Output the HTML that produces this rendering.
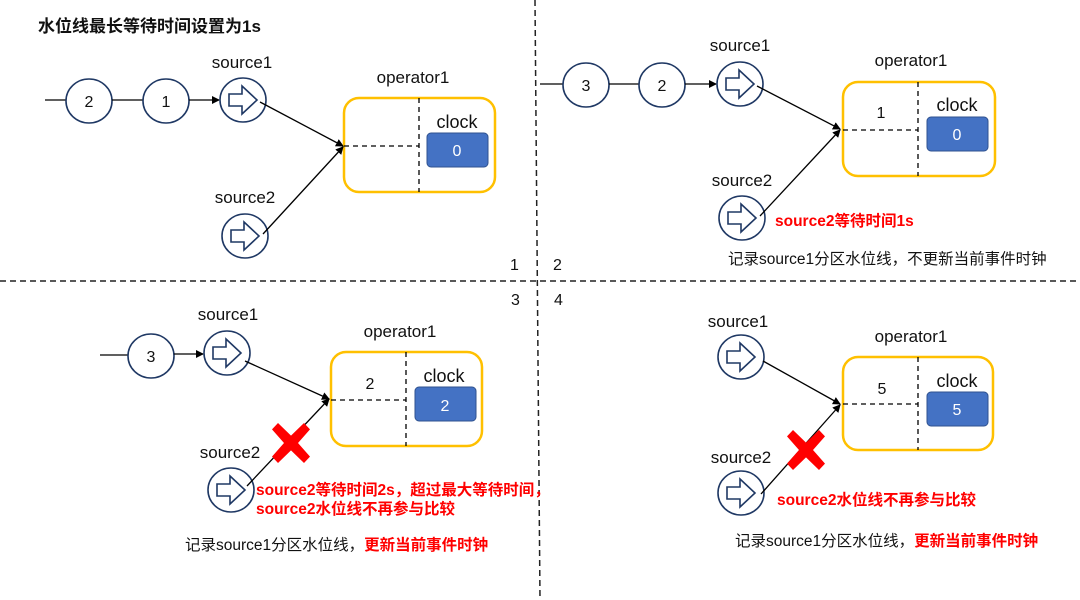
<!DOCTYPE html>
<html><head><meta charset="utf-8"><style>
html,body{margin:0;padding:0;background:#fff;}
svg{display:block;}
text{font-family:"Liberation Sans","Noto Sans CJK SC",sans-serif;fill:#111;}
.l{font-size:17px;}
.n{font-size:16px;}
.r{fill:#f00;font-size:15.5px;font-weight:bold;}
.b{font-size:15.5px;}
</style></head><body>
<svg width="1080" height="600" viewBox="0 0 1080 600" xmlns="http://www.w3.org/2000/svg">
<defs>
<marker id="ah" markerWidth="8" markerHeight="8" refX="7" refY="4" orient="auto" markerUnits="userSpaceOnUse"><path d="M0,0 L8,4 L0,8 z" fill="#000"/></marker>
<g id="src"><ellipse cx="0" cy="0" rx="23" ry="22" fill="#fff" stroke="#1f3864" stroke-width="1.6"/><path d="M-14,-6 h13 v-8 l15,14 l-15,14 v-8 h-13 z" fill="#fff" stroke="#1f3864" stroke-width="1.6"/></g>
<g id="xx"><path d="M-19,-13 L-13,-19 L0,-7 L13,-19 L19,-13 L7,0 L19,13 L13,19 L0,7 L-13,19 L-19,13 L-7,0 z" fill="#f00" transform="scale(1,1.05)"/></g>
</defs>

<line x1="0" y1="281" x2="1080" y2="281" stroke="#222" stroke-width="1.5" stroke-dasharray="6,4"/>
<line x1="535" y1="0" x2="540" y2="600" stroke="#222" stroke-width="1.5" stroke-dasharray="6,4"/>
<text x="510" y="270" class="n">1</text>
<text x="553" y="270" class="n">2</text>
<text x="511" y="305" class="n">3</text>
<text x="554" y="305" class="n">4</text>

<!-- Panel 1 -->
<text x="38" y="32" style="font-size:17px;font-weight:bold">水位线最长等待时间设置为1s</text>
<line x1="45" y1="100" x2="66" y2="100" stroke="#000" stroke-width="1.3"/>
<ellipse cx="89" cy="101" rx="23" ry="22" fill="#fff" stroke="#1f3864" stroke-width="1.6"/>
<text x="89" y="107" class="n" text-anchor="middle">2</text>
<line x1="112" y1="100" x2="143" y2="100" stroke="#000" stroke-width="1.3"/>
<ellipse cx="166" cy="101" rx="23" ry="22" fill="#fff" stroke="#1f3864" stroke-width="1.6"/>
<text x="166" y="107" class="n" text-anchor="middle">1</text>
<line x1="189" y1="100" x2="219" y2="100" stroke="#000" stroke-width="1.3" marker-end="url(#ah)"/>
<use href="#src" x="243" y="100"/>
<text x="242" y="68" class="l" text-anchor="middle">source1</text>
<use href="#src" x="245" y="236"/>
<text x="245" y="203" class="l" text-anchor="middle">source2</text>
<text x="413" y="83" class="l" text-anchor="middle">operator1</text>
<rect x="344" y="98" width="151" height="94" rx="15" fill="none" stroke="#ffc000" stroke-width="2.5"/>
<line x1="419" y1="98" x2="419" y2="192" stroke="#000" stroke-width="1.3" stroke-dasharray="5,4"/>
<line x1="344" y1="146" x2="419" y2="146" stroke="#000" stroke-width="1.3" stroke-dasharray="5,4"/>
<text x="457" y="128" class="l" text-anchor="middle" style="font-size:18px">clock</text>
<rect x="427" y="133" width="61" height="34" rx="4" fill="#4472c4" stroke="#2f528f"/>
<text x="457" y="156" class="n" text-anchor="middle" style="fill:#fff">0</text>
<line x1="260" y1="102" x2="343" y2="146" stroke="#000" stroke-width="1.3" marker-end="url(#ah)"/>
<line x1="263" y1="234" x2="343" y2="147" stroke="#000" stroke-width="1.3" marker-end="url(#ah)"/>

<!-- Panel 2 -->
<line x1="540" y1="84" x2="563" y2="84" stroke="#000" stroke-width="1.3"/>
<ellipse cx="586" cy="85" rx="23" ry="22" fill="#fff" stroke="#1f3864" stroke-width="1.6"/>
<text x="586" y="91" class="n" text-anchor="middle">3</text>
<line x1="609" y1="84" x2="639" y2="84" stroke="#000" stroke-width="1.3"/>
<ellipse cx="662" cy="85" rx="23" ry="22" fill="#fff" stroke="#1f3864" stroke-width="1.6"/>
<text x="662" y="91" class="n" text-anchor="middle">2</text>
<line x1="685" y1="84" x2="716" y2="84" stroke="#000" stroke-width="1.3" marker-end="url(#ah)"/>
<use href="#src" x="740" y="84"/>
<text x="740" y="51" class="l" text-anchor="middle">source1</text>
<use href="#src" x="742" y="218"/>
<text x="742" y="186" class="l" text-anchor="middle">source2</text>
<text x="911" y="66" class="l" text-anchor="middle">operator1</text>
<rect x="843" y="82" width="152" height="94" rx="15" fill="none" stroke="#ffc000" stroke-width="2.5"/>
<line x1="918" y1="82" x2="918" y2="176" stroke="#000" stroke-width="1.3" stroke-dasharray="5,4"/>
<line x1="843" y1="130" x2="918" y2="130" stroke="#000" stroke-width="1.3" stroke-dasharray="5,4"/>
<text x="881" y="118" class="n" text-anchor="middle">1</text>
<text x="957" y="111" class="l" text-anchor="middle" style="font-size:18px">clock</text>
<rect x="927" y="117" width="61" height="34" rx="4" fill="#4472c4" stroke="#2f528f"/>
<text x="957" y="140" class="n" text-anchor="middle" style="fill:#fff">0</text>
<line x1="757" y1="86" x2="840" y2="129" stroke="#000" stroke-width="1.3" marker-end="url(#ah)"/>
<line x1="760" y1="216" x2="840" y2="130" stroke="#000" stroke-width="1.3" marker-end="url(#ah)"/>
<text x="775" y="226" class="r">source2等待时间1s</text>
<text x="728" y="264" class="b">记录source1分区水位线，不更新当前事件时钟</text>

<!-- Panel 3 -->
<line x1="100" y1="355" x2="128" y2="355" stroke="#000" stroke-width="1.3"/>
<ellipse cx="151" cy="356" rx="23" ry="22" fill="#fff" stroke="#1f3864" stroke-width="1.6"/>
<text x="151" y="362" class="n" text-anchor="middle">3</text>
<line x1="174" y1="354" x2="203" y2="354" stroke="#000" stroke-width="1.3" marker-end="url(#ah)"/>
<use href="#src" x="227" y="353"/>
<text x="228" y="320" class="l" text-anchor="middle">source1</text>
<use href="#src" x="231" y="490"/>
<text x="230" y="458" class="l" text-anchor="middle">source2</text>
<text x="400" y="337" class="l" text-anchor="middle">operator1</text>
<rect x="331" y="352" width="151" height="94" rx="15" fill="none" stroke="#ffc000" stroke-width="2.5"/>
<line x1="406" y1="352" x2="406" y2="446" stroke="#000" stroke-width="1.3" stroke-dasharray="5,4"/>
<line x1="331" y1="400" x2="406" y2="400" stroke="#000" stroke-width="1.3" stroke-dasharray="5,4"/>
<text x="370" y="389" class="n" text-anchor="middle">2</text>
<text x="444" y="382" class="l" text-anchor="middle" style="font-size:18px">clock</text>
<rect x="415" y="387" width="61" height="34" rx="4" fill="#4472c4" stroke="#2f528f"/>
<text x="445" y="411" class="n" text-anchor="middle" style="fill:#fff">2</text>
<line x1="245" y1="361" x2="329" y2="399" stroke="#000" stroke-width="1.3" marker-end="url(#ah)"/>
<line x1="247" y1="486" x2="329" y2="399" stroke="#000" stroke-width="1.3" marker-end="url(#ah)"/>
<use href="#xx" x="291" y="443"/>
<text x="256" y="495" class="r">source2等待时间2s，超过最大等待时间，</text>
<text x="256" y="514" class="r">source2水位线不再参与比较</text>
<text x="185" y="550" class="b">记录source1分区水位线，<tspan style="fill:#f00;font-weight:bold">更新当前事件时钟</tspan></text>

<!-- Panel 4 -->
<use href="#src" x="741" y="357"/>
<text x="738" y="327" class="l" text-anchor="middle">source1</text>
<use href="#src" x="741" y="493"/>
<text x="741" y="463" class="l" text-anchor="middle">source2</text>
<text x="911" y="342" class="l" text-anchor="middle">operator1</text>
<rect x="843" y="357" width="150" height="93" rx="15" fill="none" stroke="#ffc000" stroke-width="2.5"/>
<line x1="918" y1="357" x2="918" y2="450" stroke="#000" stroke-width="1.3" stroke-dasharray="5,4"/>
<line x1="843" y1="404" x2="918" y2="404" stroke="#000" stroke-width="1.3" stroke-dasharray="5,4"/>
<text x="882" y="394" class="n" text-anchor="middle">5</text>
<text x="957" y="387" class="l" text-anchor="middle" style="font-size:18px">clock</text>
<rect x="927" y="392" width="61" height="34" rx="4" fill="#4472c4" stroke="#2f528f"/>
<text x="957" y="415" class="n" text-anchor="middle" style="fill:#fff">5</text>
<line x1="763" y1="361" x2="840" y2="404" stroke="#000" stroke-width="1.3" marker-end="url(#ah)"/>
<line x1="761" y1="494" x2="840" y2="405" stroke="#000" stroke-width="1.3" marker-end="url(#ah)"/>
<use href="#xx" x="806" y="450"/>
<text x="777" y="505" class="r">source2水位线不再参与比较</text>
<text x="735" y="546" class="b">记录source1分区水位线，<tspan style="fill:#f00;font-weight:bold">更新当前事件时钟</tspan></text>
</svg>
</body></html>
